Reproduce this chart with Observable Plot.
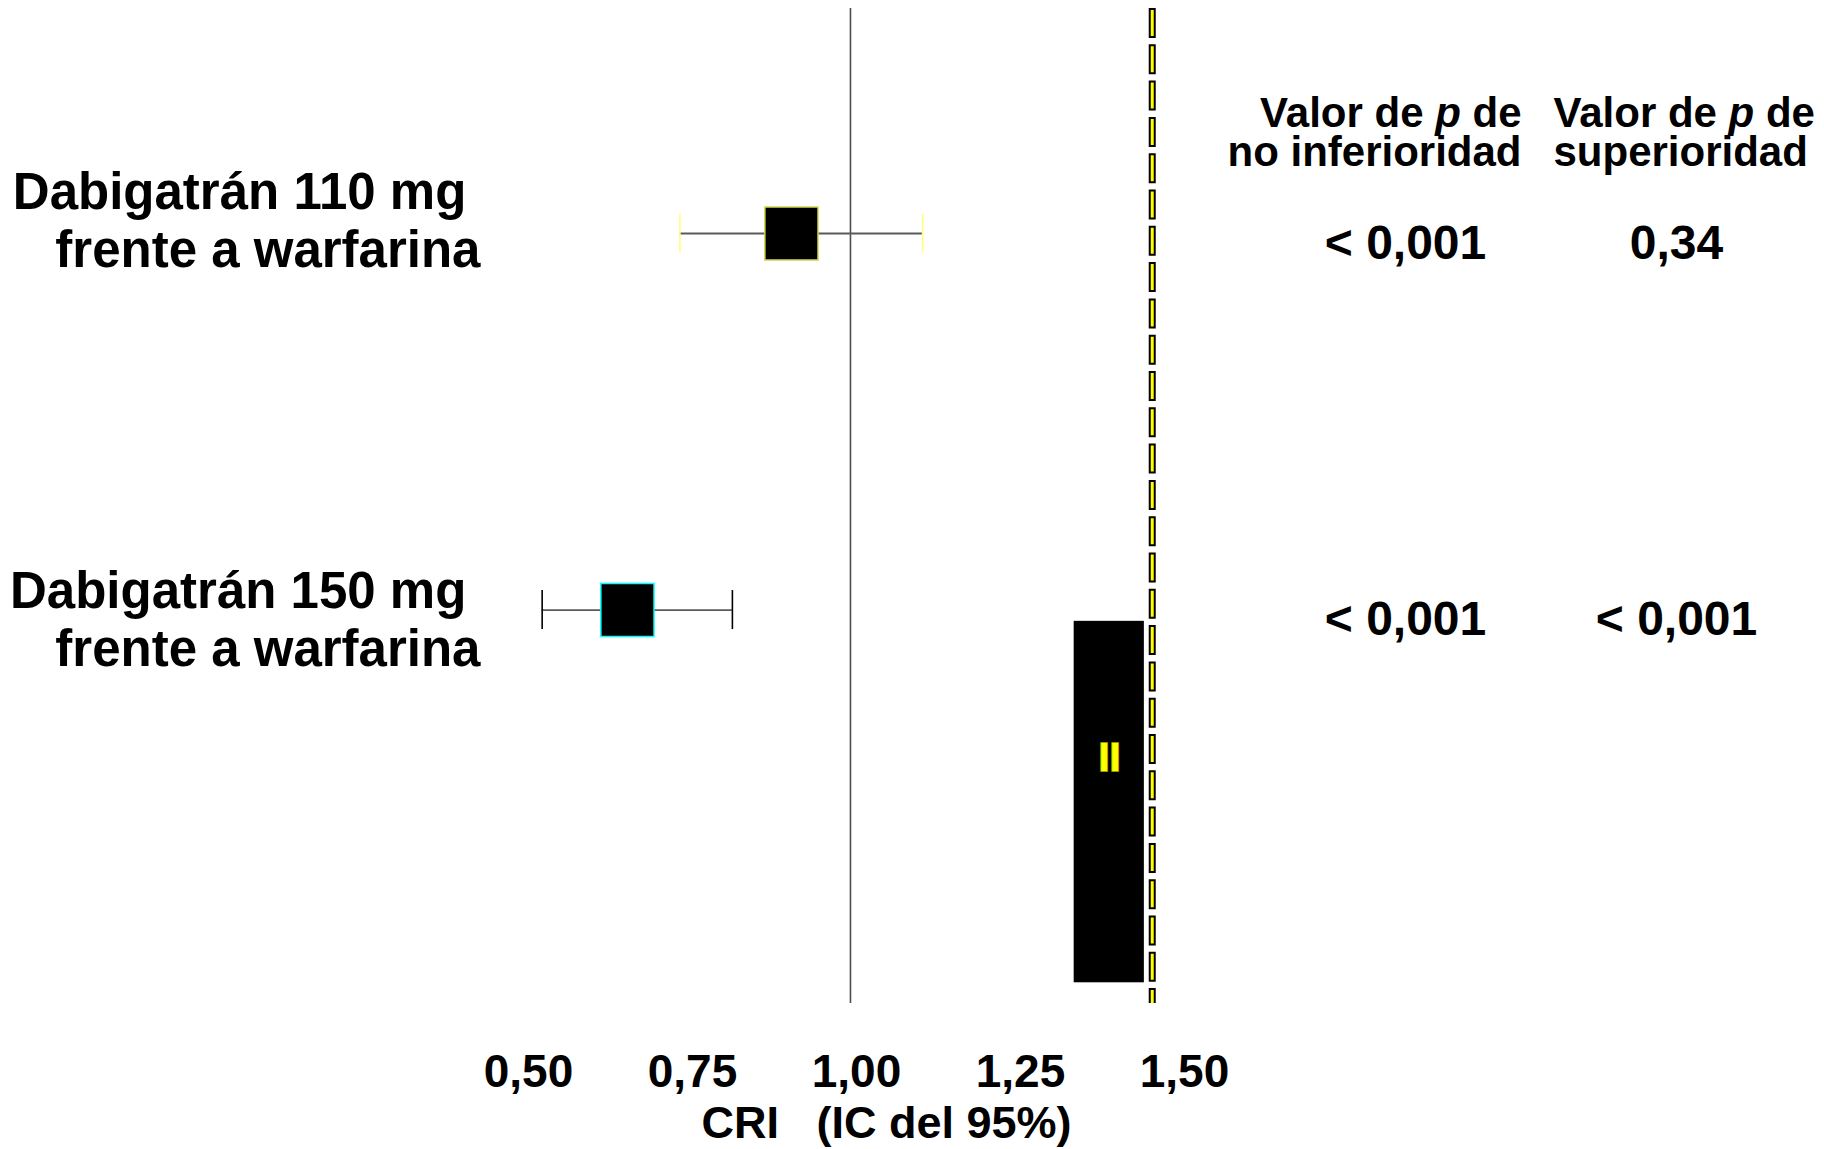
<!DOCTYPE html>
<html>
<head>
<meta charset="utf-8">
<script src="https://cdn.jsdelivr.net/npm/d3@7"></script>
<script src="https://cdn.jsdelivr.net/npm/@observablehq/plot@0.6"></script>
<style>
  html, body { margin: 0; padding: 0; background: #ffffff; }
</style>
</head>
<body>
<div id="chart"></div>
<script>
// ---- data ----
const rowLabels = ["Dabigatrán 110 mg\u00a0\nfrente a warfarina", "Dabigatrán 150 mg\u00a0\nfrente a warfarina"];
const rowIndex = [1, 2];
const hazardRatio = [0.91, 0.66];
const ciLow = [0.74, 0.53];
const ciHigh = [1.11, 0.82];
const boxStroke = ["#d6d64c", "#00ffff"];
const capStroke = ["#ffff80", "#000000"];
const pNonInferiority = ["< 0,001", "< 0,001"];
const pSuperiority = ["0,34", "< 0,001"];
const headerNonInferiority = "Valor de p de\nno inferioridad";
const headerSuperiority = "Valor de p de\nsuperioridad";
const xTicks = [0.5, 0.75, 1.0, 1.25, 1.5];
const xLabel = "CRI\u00a0\u00a0\u00a0(IC del 95%)";
const nullValue = [1.0];
const nonInferiorityMargin = [1.46];
const overlayX = [1.341, 1.448];
const overlayY = [2.03, 2.99];
const overlayGlyph = "II";
const overlayGlyphX = [1.395];
const overlayGlyphY = [2.394];

// ---- tables built from the arrays ----
const rows = rowIndex.map((r, i) => ({
  row: r, label: rowLabels[i], hr: hazardRatio[i], lo: ciLow[i], hi: ciHigh[i],
  box: boxStroke[i], cap: capStroke[i], pNI: pNonInferiority[i], pSup: pSuperiority[i]
}));
const caps = rows.flatMap(d => [{row: d.row, x: d.lo, color: d.cap}, {row: d.row, x: d.hi, color: d.cap}]);
const overlay = [{x1: overlayX[0], x2: overlayX[1], y1: overlayY[0], y2: overlayY[1]}];
const glyph = [{x: overlayGlyphX[0], y: overlayGlyphY[0], text: overlayGlyph}];

const FONT = "'Liberation Sans', Arial, Helvetica, sans-serif";
const fmt = d => d.toFixed(2).replace(".", ",");
const labelStyle = {text: "label", frameAnchor: "left", dx: 480, textAnchor: "end",
  fontSize: 51, fontWeight: "bold", lineHeight: 1.14, fill: "#000000", fontFamily: FONT};

const plot = Plot.plot({
  width: 1824,
  height: 1149,
  marginLeft: 0,
  marginRight: 0,
  marginTop: 8,
  marginBottom: 146,
  style: {fontFamily: FONT, background: "#ffffff", color: "#000000"},
  x: {domain: [-0.2957, 2.4848], axis: null},
  y: {domain: [0.4024, 3.045], reverse: true, axis: null},
  color: {type: "identity"},
  marks: [
    // reference line at 1.00
    Plot.ruleX(nullValue, {stroke: "#4d4d4d", strokeWidth: 1.6}),
    // non-inferiority margin: yellow dashes with black outline
    Plot.ruleX(nonInferiorityMargin, {stroke: "#000000", strokeWidth: 7, strokeDasharray: "30,6.3", strokeLinecap: "butt"}),
    Plot.ruleX(nonInferiorityMargin, {stroke: "#ffff00", strokeWidth: 3, strokeDasharray: "26,10.3", strokeDashoffset: -2, strokeLinecap: "butt"}),
    // black overlay block with yellow glyph
    Plot.rect(overlay, {x1: "x1", x2: "x2", y1: "y1", y2: "y2", fill: "#000000"}),
    Plot.text(glyph, {x: "x", y: "y", text: "text", fill: "#ffff00", stroke: "#9a9a00", strokeWidth: 2,
      paintOrder: "stroke", fontSize: 40, fontWeight: "bold", fontFamily: FONT}),
    // confidence intervals
    Plot.ruleY(rows, {y: "row", x1: "lo", x2: "hi", stroke: "#5a5a5a", strokeWidth: 1.8}),
    Plot.ruleX(caps, {x: "x", y1: "row", y2: "row", stroke: "color", strokeWidth: 1.6, insetTop: -19.5, insetBottom: -19.5}),
    // point estimates
    Plot.dot(rows, {x: "hr", y: "row", symbol: "square", r: 30, fill: "#000000", stroke: "box", strokeWidth: 1.5}),
    // row labels
    Plot.text(rows, Plot.filter(d => d.row === 1, {y: "row", dy: -14, ...labelStyle})),
    Plot.text(rows, Plot.filter(d => d.row === 2, {y: "row", dy: 8, ...labelStyle})),
    // p-values
    Plot.text(rows, {y: "row", text: "pNI", frameAnchor: "left", dx: 1405, dy: 10, textAnchor: "middle",
      fontSize: 48, fontWeight: "bold", fill: "#000000", fontFamily: FONT}),
    Plot.text(rows, {y: "row", text: "pSup", frameAnchor: "left", dx: 1676, dy: 10, textAnchor: "middle",
      fontSize: 48, fontWeight: "bold", fill: "#000000", fontFamily: FONT}),
    // column headers
    Plot.text([headerNonInferiority], {text: d => d, frameAnchor: "top-left", dx: 1521, dy: 90, lineAnchor: "top",
      textAnchor: "end", fontSize: 42, fontWeight: "bold", lineHeight: 0.94, fill: "#000000", fontFamily: FONT}),
    Plot.text([headerSuperiority], {text: d => d, frameAnchor: "top-left", dx: 1553, dy: 90, lineAnchor: "top",
      textAnchor: "start", fontSize: 42, fontWeight: "bold", lineHeight: 0.94, fill: "#000000", fontFamily: FONT}),
    // x axis
    Plot.axisX(xTicks, {anchor: "bottom", tickSize: 0, tickPadding: 51, tickFormat: fmt, dx: 6,
      fontSize: 46, fontWeight: "bold", fill: "#000000", label: null, fontFamily: FONT}),
    Plot.text([xLabel], {text: d => d, frameAnchor: "bottom-left", dx: 886, dy: 120, textAnchor: "middle",
      lineAnchor: "middle", fontSize: 45, fontWeight: "bold", fill: "#000000", fontFamily: FONT})
  ]
});

// italicise the "p" in the column headers
plot.querySelectorAll("tspan, text").forEach(el => {
  if (el.childElementCount === 0 && el.textContent === "Valor de p de") {
    el.textContent = "";
    el.appendChild(document.createTextNode("Valor de "));
    const it = document.createElementNS("http://www.w3.org/2000/svg", "tspan");
    it.setAttribute("font-style", "italic");
    it.textContent = "p";
    el.appendChild(it);
    el.appendChild(document.createTextNode(" de"));
  }
});

document.getElementById("chart").appendChild(plot);
</script>
</body>
</html>
